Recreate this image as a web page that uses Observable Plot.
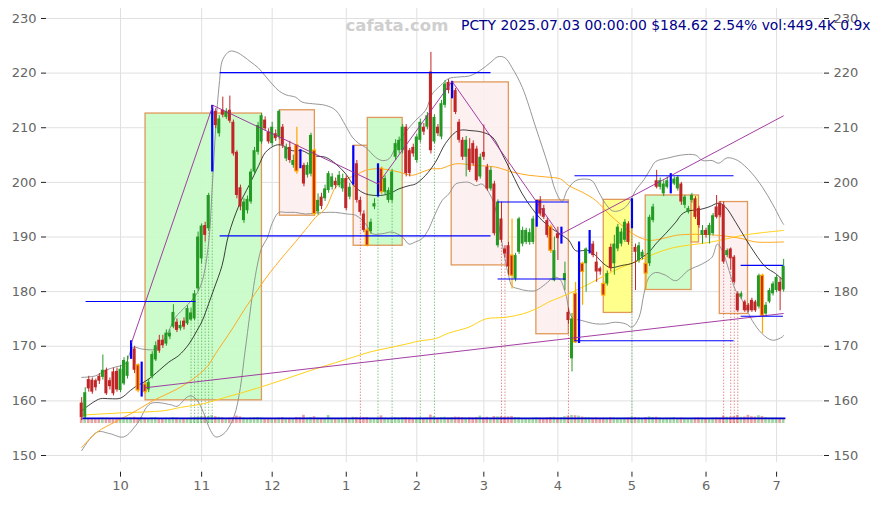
<!DOCTYPE html>
<html><head><meta charset="utf-8">
<script src="https://cdn.jsdelivr.net/npm/d3@7"></script>
<script src="https://cdn.jsdelivr.net/npm/@observablehq/plot@0.6"></script>
<style>body{margin:0;background:#fff;font-family:"DejaVu Sans",sans-serif}#chart{width:879px;height:505px}</style>
</head><body><div id="chart"></div>
<script>
const titleText = "PCTY 2025.07.03 00:00:00 $184.62 2.54% vol:449.4K 0.9x";
const watermark = "cafata.com";
const firstDay = "2024-09-16", lastDay = "2025-07-03";
const holidays = ["2024-11-28","2024-12-25","2025-01-01","2025-01-09","2025-01-20","2025-02-17","2025-04-18","2025-05-26","2025-06-19"];
const yTicks = [150,160,170,180,190,200,210,220,230];

const opens = [159.6,157.0,163.9,163.8,163.7,164.5,164.3,165.6,163.7,165.3,165.4,161.9,163.1,164.5,168.0,169.5,166.5,162.5,163.0,162.0,
164.4,167.5,171.1,171.1,170.4,171.7,173.5,174.4,173.2,174.6,174.1,174.8,175.0,180.5,186.0,192.1,191.5,202.0,213.0,208.9,
213.2,211.9,213.2,211.0,205.5,199.0,193.0,194.8,196.4,201.9,205.5,207.4,211.4,209.2,207.1,208.9,208.3,210.1,204.3,206.4,
203.1,206.8,205.8,203.1,201.3,201.5,205.8,194.6,197.3,197.0,198.5,199.1,200.2,199.4,198.8,200.7,197.3,199.7,203.4,196.7,
194.2,191.2,191.0,195.5,197.3,202.5,198.2,196.7,196.7,204.6,205.8,205.8,210.1,205.8,206.4,204.0,207.7,210.1,210.1,220.2,
207.4,210.1,208.3,214.1,218.3,215.3,216.8,211.0,207.7,204.6,206.1,207.1,206.1,201.0,205.5,202.8,198.8,199.7,188.4,193.3,
187.8,188.4,186.6,182.3,187.2,188.7,189.0,189.0,189.0,191.8,196.7,195.2,193.0,191.8,182.0,190.6,188.7,182.0,176.2,167.7,
179.6,171.0,185.1,185.1,187.2,188.7,185.4,184.2,181.4,181.4,188.1,185.1,187.8,188.7,189.4,192.4,193.0,188.1,185.7,186.3,
185.1,185.1,193.0,200.3,199.1,197.9,199.1,197.9,199.7,198.8,199.7,195.8,194.5,196.7,197.0,195.2,190.3,191.2,190.3,190.6,
195.5,196.1,195.8,186.6,187.8,186.3,179.6,179.0,178.1,177.5,178.4,178.1,177.2,182.9,175.9,178.1,179.6,180.2,181.7,180.3];
const highs = [160.6,162.4,164.5,164.2,164.0,165.0,168.4,166.0,164.2,166.0,166.0,166.5,167.9,168.2,171.0,170.0,166.8,167.1,163.4,164.0,
169.0,170.8,172.0,172.0,173.0,173.0,177.6,175.0,174.6,175.2,177.4,177.0,180.2,190.9,192.4,192.7,198.0,214.1,213.5,212.2,
215.6,213.5,215.8,211.4,205.8,199.5,197.0,197.5,202.4,206.4,211.0,212.6,212.0,209.8,211.0,209.6,213.2,210.6,207.0,207.5,
205.0,210.1,206.0,203.5,203.6,209.0,206.2,197.9,198.0,199.5,202.0,201.6,200.8,202.0,201.5,201.2,199.8,206.7,204.0,197.3,
194.8,191.5,193.3,197.0,203.4,202.8,201.2,199.0,202.4,207.8,208.3,210.6,210.6,206.2,207.0,208.8,211.6,210.8,212.8,223.8,
212.4,210.6,215.0,218.6,218.8,218.5,217.2,211.5,208.2,208.4,208.0,207.6,206.6,205.2,210.5,203.3,202.8,200.2,196.8,196.4,
188.4,189.0,193.3,187.0,193.6,191.8,191.6,191.5,193.8,196.7,197.4,195.8,193.5,192.2,190.0,191.8,191.8,185.4,177.0,176.0,
181.7,189.1,185.4,188.0,191.2,189.2,187.2,184.5,181.8,183.8,188.7,190.3,192.3,191.5,193.2,192.8,197.0,188.7,189.0,187.6,
186.9,194.0,196.0,202.2,200.8,200.3,201.0,201.6,201.0,201.2,200.0,197.6,195.6,198.0,197.4,195.6,192.1,191.6,192.5,194.3,
197.6,196.5,196.4,187.8,188.0,186.6,180.0,180.0,178.4,177.8,178.8,178.4,183.2,183.2,178.0,180.6,181.8,183.0,182.6,185.9];
const lows = [156.4,156.6,161.6,161.2,161.8,163.0,163.8,161.0,162.0,160.9,161.6,161.5,162.8,164.0,167.6,165.0,161.5,160.7,161.2,161.5,
164.0,167.2,168.7,169.6,170.0,171.2,173.2,172.5,172.8,173.0,173.8,174.5,174.7,180.0,185.0,189.1,191.0,201.9,209.8,208.3,
211.8,211.5,210.8,204.8,197.0,194.8,192.5,194.2,196.0,201.5,205.0,207.0,209.4,207.0,206.6,207.5,207.8,206.2,203.8,203.5,
202.6,201.5,202.5,199.2,200.8,201.0,193.8,194.0,195.0,196.5,198.0,198.6,198.8,199.0,198.2,194.8,196.8,199.5,196.2,194.0,
190.8,188.2,190.5,195.0,197.3,197.8,197.8,196.2,196.2,204.0,205.2,205.2,201.0,201.0,204.6,203.5,207.2,208.6,209.6,205.2,
207.0,208.4,207.8,213.6,216.2,215.3,212.4,207.2,204.0,201.0,201.8,203.0,200.0,200.6,204.0,198.4,198.4,190.2,188.0,189.0,
186.2,183.0,180.5,181.8,186.8,188.2,188.6,188.5,188.6,191.8,193.8,193.2,189.8,187.0,181.8,185.7,188.7,180.2,174.0,165.3,
170.5,170.5,177.5,179.9,186.9,186.2,181.7,183.0,179.0,181.0,183.6,183.0,187.3,188.2,189.0,188.5,191.5,180.2,185.2,185.8,
180.2,184.6,192.6,198.8,198.6,197.4,198.8,197.9,199.4,198.4,195.8,195.2,194.2,196.2,193.2,191.6,188.7,189.8,188.7,190.2,
193.3,193.5,185.0,186.2,183.9,181.4,176.2,178.6,176.2,176.2,176.2,176.2,176.8,172.3,175.5,177.8,179.2,179.8,176.5,179.9];
const closes = [156.9,161.5,162.2,161.6,162.4,163.6,165.6,161.3,162.6,161.3,162.0,165.8,167.4,167.1,170.6,165.6,161.9,163.0,161.6,163.4,
168.5,170.1,169.1,170.1,172.4,172.4,176.2,172.9,173.8,173.5,176.9,176.1,179.6,190.0,192.0,190.3,197.6,213.0,210.4,211.6,
212.3,213.0,211.2,205.2,197.6,195.5,196.4,196.9,201.9,205.8,210.4,212.2,209.8,207.4,210.1,208.0,213.0,206.8,206.4,204.0,
204.0,202.0,202.8,199.7,203.1,208.6,194.2,196.7,195.6,198.8,201.6,201.0,199.4,201.3,200.7,195.2,199.1,206.5,196.7,194.5,
191.2,188.4,192.7,196.1,203.2,198.2,200.7,198.5,201.9,207.1,207.7,210.1,201.6,201.6,205.2,208.3,211.0,209.2,212.2,205.8,
211.9,208.9,214.4,218.0,216.8,218.5,212.8,207.7,204.6,207.7,202.2,203.4,200.3,204.6,204.6,198.8,202.2,190.6,196.4,189.4,
186.9,184.5,182.9,186.6,193.3,191.2,191.2,190.8,193.3,196.5,194.2,193.6,190.3,187.5,187.5,189.7,191.5,183.3,174.7,175.0,
170.7,188.5,183.6,187.8,190.0,186.6,183.6,183.6,179.3,183.3,184.2,188.7,191.8,190.9,192.7,189.0,194.8,187.2,188.4,187.2,
183.3,193.6,195.5,199.1,200.3,199.7,200.3,201.4,200.6,200.9,196.4,197.3,195.2,197.6,193.6,192.1,191.2,190.3,192.1,193.9,
193.6,193.9,185.4,187.5,186.0,181.7,176.5,179.6,176.5,176.5,176.5,176.5,182.9,175.6,177.5,180.2,181.4,182.6,180.05,184.62];
const volumes = [520,610,480,450,470,500,560,530,470,490,510,480,530,560,600,640,560,620,540,500,
580,610,520,470,540,500,610,560,490,470,520,560,600,640,700,680,720,820,700,640,
580,520,560,600,760,680,560,520,560,600,620,580,520,480,510,470,560,600,520,480,
500,620,580,840,560,620,700,540,500,480,820,520,480,500,470,560,500,640,620,580,
600,620,540,520,560,780,540,500,560,600,560,600,620,580,520,540,600,520,560,860,
700,560,620,640,560,600,660,640,600,560,600,560,620,760,580,640,560,720,680,700,
640,680,720,620,600,520,500,480,540,600,560,520,580,620,640,560,600,700,760,820,
800,760,660,620,600,560,580,520,560,540,600,560,540,520,560,580,640,620,560,520,
600,680,620,640,560,520,540,560,600,520,560,520,480,500,560,580,540,500,520,560,
580,560,760,640,660,700,820,640,660,840,700,660,800,720,620,560,540,560,500,449.4];

const blueBars = [14,17,37,62,77,84,105,129,136,141,144,156,167];
const orangeBars = [16,18,61,66,81,85,122,133,140,142,148,160,193];
const greenSignals = [31,32,33,34,35,36,37,84,88,96,100,156];
const redSignals = [79,119,120,138,182,184,185,186];
const volBase = 155.85;
const volRef = 500;

const ma20 = [[0,158.2],[3.4,159.8],[5.3,160.4],[8,160.4],[11,160.5],[13.8,161.9],[15.7,162.8],[17,163.2],[19,164.0],[22,165.6],[24.7,167.1],[27.5,168.3],[30.4,170.4],[32.7,172.9],[34.2,174.7],[36,177.8],[37.5,180.5],[39.8,184.8],[41.6,190.3],[44.6,195.8],[47.4,199.4],[50.2,203.1],[52.1,205.5],[55,206.8],[56.8,206.8],[59.7,205.8],[62.5,205.8],[65.4,204.9],[69.1,204.6],[72,203.4],[74.8,201.6],[77.6,199.1],[80.5,197.9],[84,197.6],[87.1,197.9],[89.9,198.8],[92.8,199.4],[94.6,199.7],[97.5,201.3],[100.3,203.7],[103.1,207.1],[106,209.2],[107.9,209.6],[109.8,209.5],[113.5,209.2],[116.4,208.3],[119.2,205.2],[122,201.6],[124.9,197.9],[127.7,195.2],[130.6,193.0],[133.4,191.5],[136.2,190.3],[138.1,189.4],[140,187.5],[141.9,187.5],[143.8,187.5],[145.7,186.6],[148,185.1],[149.9,184.4],[153.2,184.8],[156.1,185.2],[158.9,186.3],[160.8,187.2],[162.7,188.7],[165.5,190.6],[168.4,192.7],[170.2,194.2],[172.1,194.8],[175,195.0],[177.8,195.5],[180.6,196.2],[182.5,195.5],[185.4,192.7],[188.2,189.7],[191,186.9],[193.9,184.5],[196.7,183.3],[199,182.0]];
const bbUpper = [[0,164.3],[4,164.6],[6.7,165.6],[9.6,166.2],[12.4,166.8],[14.5,169.8],[17,169.5],[21,169.5],[23.8,171.7],[26.6,175.3],[29.4,177.2],[32.3,179.3],[34.2,182.0],[36,189],[37,199],[38,210],[39,218],[40,222.5],[42,224],[44,223.8],[46,223],[48,222],[50,221],[52,219.5],[54,218],[56,216.7],[58,216],[60.6,215.6],[62.5,214.7],[65.4,214.4],[69.1,214.1],[72,213.2],[74.8,210.4],[76.7,208.3],[78.6,207.1],[80.5,206.4],[83.3,204.6],[85.2,204.0],[87.1,204.3],[89,206.4],[91.8,209.2],[94.6,211.3],[97.5,213.2],[99.4,216.2],[101.7,217.7],[104,219.0],[107,219.3],[110,219.5],[113,220.5],[116,222.0],[118,223.0],[120,222.8],[122,221.0],[124.9,217.4],[128.7,210.1],[132.4,202.8],[134.3,198.5],[136.2,196.5],[137.6,198.5],[140,200.3],[142.8,200.6],[144.7,200.3],[146.6,198.2],[148.5,196.1],[150.4,194.8],[152.3,194.8],[154.2,195.5],[155.6,196.7],[157,198.5],[159.4,200.5],[161.3,202.5],[162.7,203.8],[166.5,204.5],[170,205],[174,205],[176,204],[178.7,204.0],[180.6,203.5],[183,204.5],[186,204.0],[188,203.0],[190.1,201.6],[193,199.1],[195.8,196.1],[198.6,192.7],[199,192.3]];
const bbLower = [[0,150.9],[4.4,154.3],[8,154.0],[11.9,153.4],[15.7,155.8],[19.5,159.5],[25.2,159.3],[27,159.0],[29.9,160.7],[31,160.9],[32.5,160.3],[34.5,157.9],[36.5,154.6],[38,153.4],[40.3,154.0],[43.1,157.0],[45,162.5],[46,167.5],[47,172.5],[48,177.5],[49,182.0],[50,185.5],[51,188.0],[52.6,189.8],[54,192.5],[55.9,194.5],[58,194.5],[60.6,194.5],[63.5,194.2],[66.3,194.4],[69.1,194.5],[72,194.5],[75.3,194.2],[77.6,194.0],[80.5,192.4],[82.4,190.6],[85.2,190.6],[88,190.9],[90.9,190.0],[92.8,188.7],[94.6,189.1],[96.5,189.7],[98.4,191.5],[99.8,193.6],[102.2,196.7],[104.1,197.9],[106,199.7],[107.9,200.0],[109.8,200.0],[111.7,199.4],[113.5,199.7],[115.4,198.2],[116.9,196.1],[117.8,193.6],[119,189.5],[120,186.0],[121,183.0],[122,181.0],[124,180.5],[126,180.2],[128.7,180.2],[131.5,181.4],[133.9,182.6],[135.5,182.3],[137.2,179.6],[139,175.3],[141.9,174.7],[145.7,174.1],[148.5,174.1],[151.3,174.4],[154.2,174.1],[156,173.5],[158,175.3],[159.4,179.6],[160.8,182.6],[162.7,183.5],[165.5,183.0],[168.4,182.0],[172,183.9],[176,185.1],[178.7,186.3],[180.2,188.7],[181.6,187.5],[183.5,183.9],[185.4,180.2],[187.3,178.4],[190.1,174.7],[192.9,172.3],[195.8,171.1],[198.6,171.7],[199,172.0]];
const maOrange = [[0,151.5],[4.4,154.3],[9,156.0],[13.8,157.6],[17,158.8],[20.4,160.1],[24,161.2],[28,162.5],[30.4,163.5],[33.2,164.8],[36,166.6],[37.9,168.6],[40,170.6],[43,173.5],[46,176.6],[49,179.5],[52,182.3],[55,184.8],[57.8,187.0],[60.6,189.1],[64.4,192.1],[66.3,193.6],[69.1,195.2],[72,199.1],[74.8,200.5],[77.6,201.3],[80.5,202.2],[84,202.5],[87,202.3],[89.9,201.9],[93.7,201.3],[96.5,201.9],[99.4,202.5],[101.7,202.5],[106,203.4],[111.7,203.1],[117.3,202.8],[122,201.9],[126.8,201.3],[131.5,201.0],[135.8,200.6],[138.1,199.4],[141.9,198.2],[145.7,196.7],[149.5,194.2],[153.2,192.1],[157,190.3],[160.8,189.4],[164.6,189.7],[168.4,190.3],[174,190.5],[180.6,190.3],[187.3,189.7],[191,189.1],[199,189.1]];
const maYellow = [[0,157.4],[11,157.8],[23.3,158.2],[28,158.8],[34.6,159.5],[39.4,160.4],[46,161.6],[53.5,163.1],[60,164.5],[66,165.8],[72,167.0],[77,168.0],[82,169.0],[87,169.7],[92,170.4],[96,171.0],[100.3,171.4],[104,172.4],[109.8,173.5],[114.5,175.0],[120.2,175.3],[124.9,175.9],[128.7,176.8],[132.4,178.1],[135.8,179.0],[139,179.9],[143.8,181.4],[148.5,183.0],[153.2,184.5],[158,185.7],[162.7,187.0],[167.4,188.0],[172,188.5],[177.8,189.0],[183,189.7],[187.3,190.3],[193,190.8],[199,191.2]];

const boxes = [
  {i1:18.1,i2:51.1,lo:160.1,hi:212.6,kind:"green"},
  {i1:56.2,i2:66.1,lo:193.9,hi:213.2,kind:"pink"},
  {i1:77.1,i2:81.1,lo:188.4,hi:206.7,kind:"pink"},
  {i1:81.1,i2:91.0,lo:188.4,hi:211.8,kind:"green"},
  {i1:104.9,i2:121.1,lo:184.8,hi:218.3,kind:"pink"},
  {i1:128.9,i2:138.1,lo:172.2,hi:196.7,kind:"pink"},
  {i1:148.0,i2:156.1,lo:176.1,hi:196.8,kind:"yellow"},
  {i1:159.9,i2:172.9,lo:180.3,hi:197.6,kind:"green"},
  {i1:172.9,i2:175.0,lo:189.0,hi:197.6,kind:"yellow"},
  {i1:180.9,i2:188.9,lo:175.9,hi:196.4,kind:"pink"}
];
const trendLines = [
  {i1:14.1,p1:170.6,i2:37.2,p2:214.1},
  {i1:37.2,p1:214.1,i2:84,p2:199.7},
  {i1:84,p1:199.7,i2:105,p2:218.5},
  {i1:105,p1:218.5,i2:135.5,p2:190.4},
  {i1:135.5,p1:190.4,i2:199,p2:212.2},
  {i1:18,p1:162.4,i2:199,p2:176.0}
];
const levels = [
  {i1:1.1,i2:32.3,p:178.2},
  {i1:39.1,i2:115.9,p:220.1},
  {i1:39.1,i2:115.9,p:190.2},
  {i1:117.9,i2:138,p:196.4},
  {i1:117.9,i2:137.1,p:182.3},
  {i1:139.7,i2:184.8,p:201.2},
  {i1:139.7,i2:184.8,p:171.0},
  {i1:186.8,i2:198.8,p:184.8},
  {i1:186.8,i2:198.8,p:175.5}
];
const baseLevel = {i1:0.2,i2:199.5,p:156.8};

// trading calendar
const fmt = d3.utcFormat("%Y-%m-%d");
const hol = new Set(holidays);
const dates = d3.utcDays(new Date(firstDay), d3.utcDay.offset(new Date(lastDay), 1))
  .filter(d => d.getUTCDay() % 6 !== 0 && !hol.has(fmt(d)));
const monthTicks = [];
dates.forEach((d, i) => { if (i > 0 && d.getUTCMonth() !== dates[i-1].getUTCMonth()) monthTicks.push({i, label: String(d.getUTCMonth() + 1)}); });
const tickIdx = monthTicks.map(d => d.i);
const tickLabel = new Map(monthTicks.map(d => [d.i, d.label]));

const UP = "#249a24", DOWN = "#c02626";
const bars = opens.map((o, i) => ({i, date: dates[i], o, h: highs[i], l: lows[i], c: closes[i], v: volumes[i],
  up: closes[i] >= opens[i], special: blueBars.includes(i) ? "blue" : orangeBars.includes(i) ? "orange" : null}));
const normal = bars.filter(d => !d.special);
const orange = bars.filter(d => d.special === "orange");
const blue = bars.filter(d => d.special === "blue");
const boxFill = {green: "#c6fcc6", pink: "#fdeeee", yellow: "#ffff80"};
const hw = 0.43;

const chart = Plot.plot({
  width: 879, height: 505,
  marginLeft: 46, marginRight: 56, marginTop: 8, marginBottom: 43,
  x: {domain: [-9.98, 210.3], axis: null},
  y: {domain: [148.72, 231.83], axis: null},
  style: {fontFamily: "DejaVu Sans, sans-serif", fontSize: "13px", background: "#fff", overflow: "visible"},
  marks: [
    Plot.ruleY(yTicks, {stroke: "#e0e0e0", strokeWidth: 1}),
    Plot.ruleX(tickIdx, {stroke: "#e0e0e0", strokeWidth: 1}),
    Plot.rect(boxes, {x1: "i1", x2: "i2", y1: "lo", y2: "hi", fill: d => boxFill[d.kind], fillOpacity: 0.9, stroke: "#e0995a", strokeWidth: 1.3}),
    Plot.rect(bars, {x1: d => d.i - 0.38, x2: d => d.i + 0.38, y1: d => volBase, y2: d => volBase + d.v / volRef * 0.9,
      fill: d => d.up ? UP : DOWN, fillOpacity: 0.42}),
    Plot.ruleX(greenSignals, {x: d => d, y1: d => volBase, y2: d => lows[d], stroke: "#2a9a2a", strokeOpacity: 0.55, strokeDasharray: "1.5,1.5", strokeWidth: 1}),
    Plot.ruleX(redSignals, {x: d => d, y1: d => volBase, y2: d => lows[d], stroke: "#d03030", strokeOpacity: 0.55, strokeDasharray: "1.5,1.5", strokeWidth: 1}),
    Plot.line(bbUpper, {x: d => d[0], y: d => d[1], stroke: "#8a8a8a", strokeWidth: 0.9, curve: "catmull-rom"}),
    Plot.line(bbLower, {x: d => d[0], y: d => d[1], stroke: "#8a8a8a", strokeWidth: 0.9, curve: "catmull-rom"}),
    Plot.line(maYellow, {x: d => d[0], y: d => d[1], stroke: "#ffd21a", strokeWidth: 1, curve: "catmull-rom"}),
    Plot.line(maOrange, {x: d => d[0], y: d => d[1], stroke: "#ffaa22", strokeWidth: 1, curve: "catmull-rom"}),
    Plot.line(ma20, {x: d => d[0], y: d => d[1], stroke: "#111", strokeWidth: 0.8, curve: "catmull-rom"}),
    Plot.ruleX(normal, {x: "i", y1: "l", y2: "h", stroke: d => d.up ? UP : DOWN, strokeWidth: 1}),
    Plot.rect(normal, {x1: d => d.i - hw, x2: d => d.i + hw, y1: "o", y2: d => Math.abs(d.c - d.o) < 0.15 ? d.o + 0.15 : d.c, fill: d => d.up ? UP : DOWN}),
    Plot.ruleX(orange, {x: "i", y1: "l", y2: "h", stroke: "#ffa500", strokeWidth: 1.2}),
    Plot.rect(orange, {x1: d => d.i - hw, x2: d => d.i + hw, y1: "o", y2: "c", fill: d => d.up ? UP : DOWN, stroke: "#ffa500", strokeWidth: 1.2}),
    Plot.ruleX(blue, {x: "i", y1: "l", y2: "h", stroke: "#0000ff", strokeWidth: 2.2}),
    Plot.link(trendLines, {x1: "i1", y1: "p1", x2: "i2", y2: "p2", stroke: "#9a2a9a", strokeWidth: 1, strokeOpacity: 0.9}),
    Plot.link(levels, {x1: "i1", y1: "p", x2: "i2", y2: "p", stroke: "#0000ff", strokeWidth: 1.1}),
    Plot.link([baseLevel], {x1: "i1", y1: "p", x2: "i2", y2: "p", stroke: "#0000cc", strokeWidth: 1.6}),
    Plot.axisY(yTicks, {anchor: "left", tickSize: 5, tickPadding: 5, stroke: "#222", fill: "#666", fontSize: 13, tickFormat: d => String(d)}),
    Plot.axisY(yTicks, {anchor: "right", tickSize: 5, tickPadding: 5, stroke: "#222", fill: "#666", fontSize: 13, tickFormat: d => String(d)}),
    Plot.axisX(tickIdx, {anchor: "bottom", tickSize: 5, tickPadding: 4, dy: 9.7, stroke: "#222", fill: "#666", fontSize: 13, tickFormat: d => tickLabel.get(d)}),
    Plot.text([watermark], {frameAnchor: "top-left", dx: 299, dy: 17.5, text: d => d, textAnchor: "start", lineAnchor: "middle", fontWeight: "bold", fontSize: 16.5, fill: "#cfcfcf"}),
    Plot.text([titleText], {frameAnchor: "top-right", dx: 47, dy: 17.5, text: d => d, textAnchor: "end", lineAnchor: "middle", fontSize: 13.9, fill: "#00008b"})
  ]
});
document.getElementById("chart").appendChild(chart);
</script>
</body></html>
